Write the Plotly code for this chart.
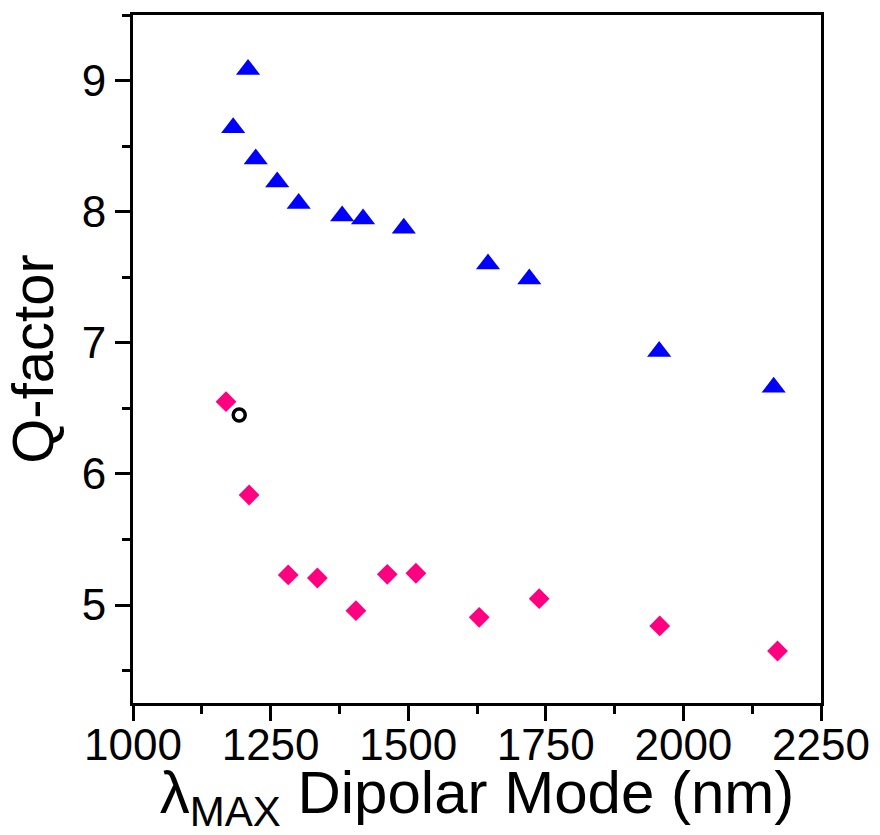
import plotly.graph_objects as go

# Data
tri_x = [1209, 1182, 1223, 1262, 1301, 1380, 1418, 1492, 1645, 1720, 1956, 2164]
tri_q = [9.085, 8.640, 8.402, 8.226, 8.063, 7.966, 7.944, 7.873, 7.600, 7.487, 6.933, 6.660]
dia_x = [1169, 1211, 1282, 1335, 1405, 1462, 1514, 1629, 1738, 1957, 2171]
dia_q = [6.551, 5.839, 5.229, 5.206, 4.957, 5.234, 5.242, 4.906, 5.048, 4.840, 4.649]
circ_x = [1193]
circ_q = [6.449]
x_ticks = [1000, 1250, 1500, 1750, 2000, 2250]
y_ticks = [5, 6, 7, 8, 9]

FONT = "Arial, Liberation Sans, sans-serif"

fig = go.Figure()
fig.add_trace(go.Scatter(x=tri_x, y=tri_q, mode="markers",
                         marker=dict(symbol="triangle-up", size=21, color="#0000FF",
                                     line=dict(width=0))))
fig.add_trace(go.Scatter(x=dia_x, y=dia_q, mode="markers",
                         marker=dict(symbol="diamond", size=16, color="#FF0080",
                                     line=dict(width=0))))
fig.add_trace(go.Scatter(x=circ_x, y=circ_q, mode="markers",
                         marker=dict(symbol="circle-open", size=12, color="black",
                                     line=dict(width=3.5, color="black"))))

axis_common = dict(showgrid=False, zeroline=False, showline=True, linecolor="black",
                   linewidth=3, mirror=True, ticks="outside", ticklen=15, tickwidth=3,
                   tickcolor="black", tickfont=dict(family=FONT, size=44, color="black"))

fig.update_xaxes(range=[1000, 2250], tickvals=x_ticks,
                 ticktext=[str(v) for v in x_ticks],
                 ticklabelstandoff=-14,
                 minor=dict(dtick=125, tick0=1000, ticks="outside", ticklen=8, tickwidth=3,
                            tickcolor="black"),
                 title=dict(text="λ<sub>MAX</sub> Dipolar Mode (nm)",
                            font=dict(family=FONT, size=60, color="black"), standoff=27),
                 **axis_common)
fig.update_yaxes(range=[4.2525, 9.5], tickvals=y_ticks,
                 ticktext=[str(v) for v in y_ticks],
                 minor=dict(dtick=0.5, tick0=4.5, ticks="outside", ticklen=8, tickwidth=3,
                            tickcolor="black"),
                 title=dict(text="Q-factor", font=dict(family=FONT, size=58, color="black"),
                            standoff=10),
                 **axis_common)

fig.update_layout(width=880, height=835, showlegend=False,
                  plot_bgcolor="white", paper_bgcolor="white",
                  margin=dict(l=133, r=59, t=15, b=132, autoexpand=False))

fig.write_html("out.html", config={"displayModeBar": False},
               post_script="document.body.style.margin='0px';document.body.style.overflow='hidden';")
